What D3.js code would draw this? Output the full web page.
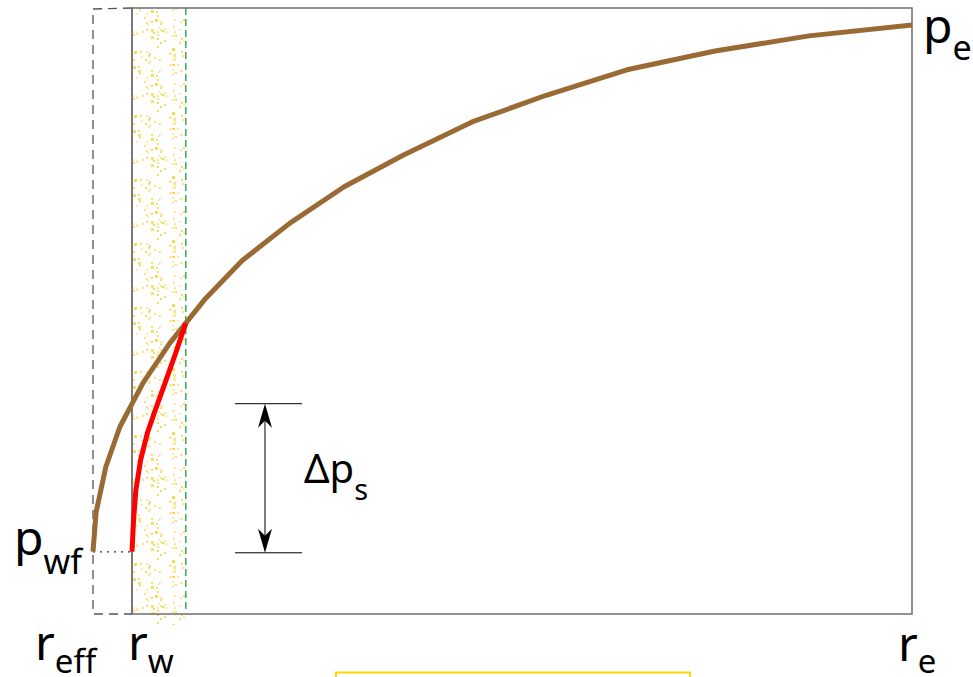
<!DOCTYPE html>
<html>
<head>
<meta charset="utf-8">
<script src="https://cdn.jsdelivr.net/npm/d3@7"></script>
<style>
  body { margin: 0; background: #fff; }
  text { font-family: "Noto Sans", "Open Sans", sans-serif; fill: #000; }
</style>
</head>
<body>
<div id="chart"></div>
<script>
// radius positions (arbitrary units) and pressure (percent of range)
const rEff = 0, rW = 1.0, rSkin = 2.38, rE = 21;
const pTop = 100;

// reservoir pressure profile (brown)
const rBrown = [0, 0.08, 0.33, 0.69, 1.28, 1.97, 2.85, 3.82, 5.05, 6.44, 7.95, 9.72, 11.62, 13.69, 15.95, 18.36, 21.0];
const pBrown = [10.3, 16.8, 24.3, 30.9, 38.1, 44.7, 51.8, 58.3, 64.5, 70.5, 75.7, 81.2, 85.6, 89.8, 92.9, 95.4, 97.2];

// pressure inside the damaged zone (red)
const rRed = [1.0, 1.04, 1.1, 1.22, 1.4, 1.6, 1.83, 2.10, 2.38];
const pRed = [10.3, 15.5, 20.5, 25.4, 30.0, 33.7, 37.8, 42.7, 48.0];

// skin pressure drop marker
const pwf = 10.1, pSkinTop = 34.7;
const dpMarkR = [3.64, 5.36], dpArrowR = 4.41;

const W = 973, H = 677;
const x = d3.scaleLinear().domain([rEff, rE]).range([93, 912]);
const y = d3.scaleLinear().domain([0, pTop]).range([614, 8]);

const svg = d3.select("#chart").append("svg")
  .attr("width", W).attr("height", H);

// stippled skin zone texture (deterministic dots)
const defs = svg.append("defs");
const pat = defs.append("pattern")
  .attr("id", "stipple").attr("patternUnits", "userSpaceOnUse")
  .attr("x", x(rW)).attr("y", 0)
  .attr("width", 54).attr("height", 64);
let seed = 11;
function lcg() { seed = (seed * 16807) % 2147483647; return seed / 2147483647; }
const dotCols = ["#ffd43b", "#ffe070", "#fbd24e", "#ffe89a", "#ffdb5c"];
for (let i = 0; i < 78; i++) {
  const s = lcg() < 0.25 ? 3 : 2;
  pat.append("rect")
    .attr("x", Math.floor(lcg() * 52)).attr("y", Math.floor(lcg() * 62))
    .attr("width", s).attr("height", s)
    .attr("fill", dotCols[Math.floor(lcg() * dotCols.length)])
    .attr("opacity", 0.85);
}
svg.append("rect")
  .attr("x", x(rW)).attr("y", y(pTop))
  .attr("width", x(rSkin) - x(rW)).attr("height", y(0) - y(pTop) + 11)
  .attr("fill", "url(#stipple)");

// green dashed skin boundary
svg.append("line")
  .attr("x1", x(rSkin)).attr("x2", x(rSkin))
  .attr("y1", y(pTop)).attr("y2", y(0) - 3)
  .attr("stroke", "#1e9e3c").attr("stroke-width", 1.3)
  .attr("stroke-dasharray", "7,4");

// main box
svg.append("rect")
  .attr("x", x(rW)).attr("y", y(pTop))
  .attr("width", x(rE) - x(rW)).attr("height", y(0) - y(pTop))
  .attr("fill", "none").attr("stroke", "#6e6e6e").attr("stroke-width", 1.5);
svg.append("line")
  .attr("x1", x(rW)).attr("x2", x(rW)).attr("y1", y(pTop)).attr("y2", y(0))
  .attr("stroke", "#7a7a7a").attr("stroke-width", 2);

// dashed effective-radius box
svg.append("path")
  .attr("d", `M${x(rW)},${y(pTop)} L${x(rEff)},${y(pTop) + 1} L${x(rEff)},${y(0)} L${x(rW)},${y(0)}`)
  .attr("fill", "none").attr("stroke", "#555").attr("stroke-width", 1.3)
  .attr("stroke-dasharray", "9,6");

// dotted pwf connector
svg.append("line")
  .attr("x1", x(rEff)).attr("x2", x(rW)).attr("y1", y(pwf) - 1).attr("y2", y(pwf) - 1)
  .attr("stroke", "#333").attr("stroke-width", 1.3).attr("stroke-dasharray", "2,5");

const line = d3.line().x(d => x(d[0])).y(d => y(d[1]));

svg.append("path")
  .datum(rBrown.map((r, i) => [r, pBrown[i]]))
  .attr("d", line)
  .attr("fill", "none").attr("stroke", "#9a6a34").attr("stroke-width", 5)
  .attr("stroke-linejoin", "round");

svg.append("path")
  .datum(rRed.map((r, i) => [r, pRed[i]]))
  .attr("d", line)
  .attr("fill", "none").attr("stroke", "#ff0000").attr("stroke-width", 5)
  .attr("stroke-linejoin", "round");

// delta p skin marker
[pSkinTop, pwf].forEach(p => {
  svg.append("line")
    .attr("x1", x(dpMarkR[0])).attr("x2", x(dpMarkR[1]))
    .attr("y1", y(p)).attr("y2", y(p))
    .attr("stroke", "#000").attr("stroke-width", 1);
});
const ax = x(dpArrowR), aTop = y(pSkinTop), aBot = y(pwf);
svg.append("line")
  .attr("x1", ax).attr("x2", ax).attr("y1", aTop + 4).attr("y2", aBot - 4)
  .attr("stroke", "#000").attr("stroke-width", 1);
svg.append("path")
  .attr("d", `M${ax},${aTop} L${ax - 7},${aTop + 24} L${ax},${aTop + 17} L${ax + 7},${aTop + 24} Z`)
  .attr("fill", "#000");
svg.append("path")
  .attr("d", `M${ax},${aBot} L${ax - 7},${aBot - 24} L${ax},${aBot - 17} L${ax + 7},${aBot - 24} Z`)
  .attr("fill", "#000");

// labels with subscripts
function label(px, py, main, sub, subDy, size, subSize) {
  const t = svg.append("text").attr("x", px).attr("y", py).attr("font-size", size);
  t.append("tspan").text(main);
  t.append("tspan").attr("dy", subDy).attr("font-size", subSize).text(sub);
}
label(14, 555, "p", "wf", 19, 48, 34);
label(35, 660, "r", "eff", 13, 48, 33);
label(128, 660, "r", "w", 13, 48, 33);
label(898, 661, "r", "e", 12, 48, 33);
label(923, 43, "p", "e", 17, 48, 34);
label(304, 483, "\u0394p", "s", 17, 40, 29);

// yellow box at bottom edge
svg.append("rect")
  .attr("x", 336).attr("y", 672.5).attr("width", 354).attr("height", 20)
  .attr("fill", "none").attr("stroke", "#ffd700").attr("stroke-width", 2);
</script>
</body>
</html>
